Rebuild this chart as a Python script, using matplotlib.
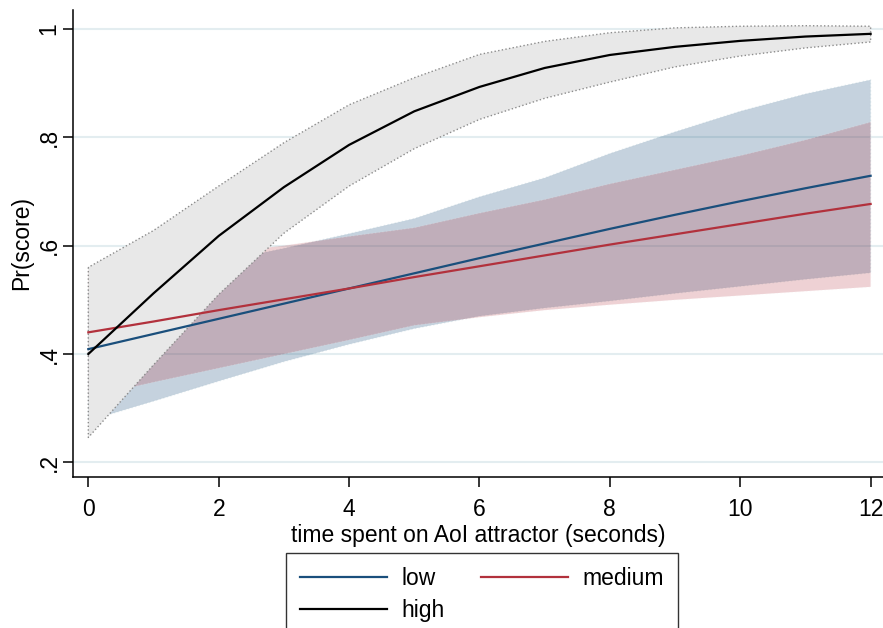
import matplotlib.pyplot as plt
from matplotlib.lines import Line2D

plt.rcParams['font.family'] = ['Liberation Sans', 'DejaVu Sans']

# Predicted Pr(score) by time on AoI attractor, with 95% CIs
seconds = [0, 1, 2, 3, 4, 5, 6, 7, 8, 9, 10, 11, 12]

low = [.409, .437, .465, .493, .521, .549, .577, .604, .631, .657, .682, .706, .729]
low_lo = [.277, .313, .350, .386, .418, .447, .470, .485, .498, .512, .525, .538, .550]
low_hi = [.520, .545, .570, .595, .622, .650, .690, .725, .770, .810, .848, .880, .906]

medium = [.440, .460, .481, .501, .521, .542, .562, .582, .602, .621, .640, .659, .677]
medium_lo = [.321, .348, .374, .400, .426, .453, .468, .481, .491, .500, .508, .516, .524]
medium_hi = [.555, .573, .586, .600, .617, .633, .660, .685, .714, .740, .766, .795, .828]

high = [.400, .512, .618, .708, .786, .848, .893, .928, .952, .967, .978, .986, .991]
high_lo = [.246, .380, .510, .623, .710, .779, .833, .872, .902, .930, .950, .965, .976]
high_hi = [.560, .628, .710, .790, .860, .910, .953, .977, .993, 1.002, 1.005, 1.006, 1.005]

yticks = [.2, .4, .6, .8, 1]
ytick_labels = [".2", ".4", ".6", ".8", "1"]

blue = "#1a4f7c"
red = "#b2313c"
fs = 16.5

fig = plt.figure(figsize=(8.83, 6.28), dpi=100)
ax = fig.add_axes([73 / 883, 1 - 477 / 628, 1 - 73 / 883, 467 / 628])

# bands: low and medium translucent, high opaque on top
ax.fill_between(seconds, low_lo, low_hi, facecolor=blue, alpha=0.25,
                edgecolor="#a8c4d0", linestyle=":", linewidth=1, zorder=1)
ax.fill_between(seconds, medium_lo, medium_hi, facecolor=red, alpha=0.22,
                edgecolor="#f4e4e6", linestyle=":", linewidth=1, zorder=2)
ax.fill_between(seconds, high_lo, high_hi, facecolor="#e8e8e8",
                edgecolor="#8c8c8c", linestyle=":", linewidth=1, zorder=3)

ax.plot(seconds, low, color=blue, linewidth=1.6, zorder=4)
ax.plot(seconds, medium, color=red, linewidth=1.6, zorder=4)
ax.plot(seconds, high, color="black", linewidth=1.6, zorder=4)

ax.set_xlim(-0.235, 12.19)
ax.set_ylim(0.173, 1.035)
ax.set_xticks(range(0, 13, 2))
ax.set_yticks(yticks)
ax.set_yticklabels(ytick_labels, rotation=90, va="center")
ax.grid(axis="y", color="#e3edf0", linewidth=1.5, zorder=0)
ax.set_axisbelow(True)

for s in ["top", "right"]:
    ax.spines[s].set_visible(False)
for s in ["left", "bottom"]:
    ax.spines[s].set_linewidth(1.1)
ax.tick_params(axis="both", labelsize=fs, length=7, width=1.1)
ax.tick_params(axis="x", pad=8)
ax.tick_params(axis="y", pad=2)

ax.set_xlabel("time spent on AoI attractor (seconds)", fontsize=fs, labelpad=2)
ax.set_ylabel("Pr(score)", fontsize=fs, labelpad=3)

handles = [Line2D([], [], color=blue, linewidth=1.6),
           Line2D([], [], color="black", linewidth=1.6),
           Line2D([], [], color=red, linewidth=1.6)]
fig.legend(handles, ["low", "high", "medium"], ncol=2, fontsize=fs,
           loc="upper center", bbox_to_anchor=(482 / 883, 1 - 553 / 628),
           borderaxespad=0, frameon=True, fancybox=False,
           edgecolor="#333333", framealpha=1,
           handlelength=3.8, handletextpad=0.65, columnspacing=1.55,
           borderpad=0.6, labelspacing=0.4)

fig.savefig("out.png", dpi=100)
